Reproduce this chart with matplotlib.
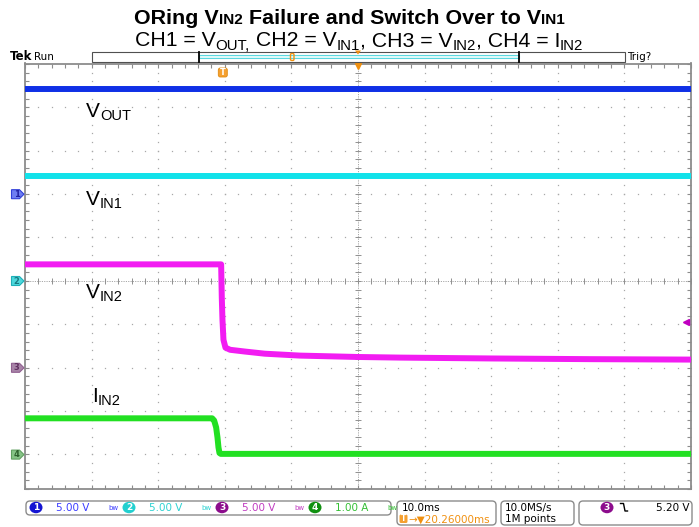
import numpy as np
import matplotlib
matplotlib.use("Agg")
import matplotlib.pyplot as plt
from matplotlib.patches import Rectangle, Polygon, FancyBboxPatch, Ellipse
from matplotlib.transforms import IdentityTransform

W, H = 699, 527
ID = IdentityTransform()
SANS = ['Liberation Sans', 'DejaVu Sans']
UI = ['DejaVu Sans']

# ---- scope settings / data ----
ms_per_div = 10
volts_per_div = [5.0, 5.0, 5.0, 1.0]
ground_div = [2, 0, -2, -4]          # channel ground markers, divisions from center
trigger_ms = 29.7                    # trigger point from left edge of record
trigger_level = 5.20                 # CH3 falling edge

t_vout = [0, 100]
v_vout = [12.1, 12.1]
t_vin1 = [0, 100]
v_vin1 = [12.05, 12.05]
t_vin2 = [0, 29.45, 29.55, 29.65, 29.8, 30.1, 30.8, 33, 36, 41.3, 50, 56.3, 70, 85, 100]
v_vin2 = [11.9, 11.9, 8.0, 5.5, 3.2, 2.3, 2.05, 1.85, 1.6, 1.38, 1.22, 1.15, 1.05, 0.97, 0.92]
t_iin2 = [0, 28.1, 28.4, 28.7, 28.9, 29.05, 29.2, 29.4, 100]
i_iin2 = [0.83, 0.83, 0.78, 0.62, 0.39, 0.16, 0.03, 0.01, 0.01]

ch_colors = ['#1030e6', '#12e2ea', '#f21cf2', '#22e022']
status_vals = ['5.00 V', '5.00 V', '5.00 V', '1.00 A']

# graticule in pixels
GX0, GX1 = 25, 691
GY0, GY1 = 63.5, 489
CY = 281
DIV = 43.4

fig = plt.figure(figsize=(W / 100, H / 100), dpi=100)
fig.patch.set_facecolor('white')

def ptext(x, y, s, **kw):
    return fig.text(x, H - y, s, transform=ID, **kw)

def rich(pieces, x, y, width=None, family=SANS):
    r = fig.canvas.get_renderer()
    def build(f):
        objs = [ptext(0, y + dy, s, fontsize=size * f, fontweight=wt, color='black',
                      family=family, va='baseline', ha='left')
                for s, size, wt, dy in pieces]
        return objs, [o.get_window_extent(r).width for o in objs]
    objs, ws = build(1.0)
    if width:
        f = width / sum(ws)
        for o in objs:
            o.remove()
        objs, ws = build(f)
    x0 = x - sum(ws) / 2
    for o, w in zip(objs, ws):
        o.set_x(x0)
        x0 += w

# ---- title ----
rich([('ORing V', 14, 'bold', 0), ('IN2', 10, 'bold', 0),
      (' Failure and Switch Over to V', 14, 'bold', 0), ('IN1', 10, 'bold', 0)],
     349.5, 24.5, width=430)
rich([('CH1 = V', 13.5, 'normal', 0), ('OUT,', 9.5, 'normal', 3),
      (' CH2 = V', 13.5, 'normal', 0), ('IN1', 9.5, 'normal', 3),
      (', CH3 = V', 13.5, 'normal', 0), ('IN2', 9.5, 'normal', 3),
      (', CH4 = I', 13.5, 'normal', 0), ('IN2', 9.5, 'normal', 3)],
     359, 46.5, width=450)

# ---- graticule axes ----
ax = fig.add_axes([GX0 / W, 1 - GY1 / H, (GX1 - GX0) / W, (GY1 - GY0) / H])
ybot, ytop = (CY - GY1) / DIV, (CY - GY0) / DIV
ax.set_xlim(0, 10 * ms_per_div)
ax.set_ylim(ybot, ytop)
for s in ax.spines.values():
    s.set_color('#8c8c8c')
    s.set_linewidth(1.3)
xminor = np.arange(0, 100.01, 2)
yminor = np.round(np.arange(-4.8, 5.01, 0.2), 2)
ax.set_xticks(xminor)
ax.set_yticks(yminor)
ax.tick_params(direction='in', length=3, width=0.8, color='#8c8c8c',
               top=True, right=True, labelbottom=False, labelleft=False)

gcol = '#a8a8a8'
xmaj = np.arange(10, 100, 10)
ymaj = np.arange(-4, 5, 1)
gx, gy = np.meshgrid(xminor, ymaj)
ax.plot(gx.ravel(), gy.ravel(), ls='none', marker='s', ms=0.9, mec='none', color=gcol, zorder=1)
gx, gy = np.meshgrid(xmaj, yminor)
ax.plot(gx.ravel(), gy.ravel(), ls='none', marker='s', ms=0.9, mec='none', color=gcol, zorder=1)
# center crosshair
ax.axhline(0, color=gcol, lw=0.7, ls=(0, (1.2, 1.2)), zorder=1)
ax.axvline(50, color=gcol, lw=0.7, ls=(0, (1.2, 1.2)), zorder=1)
ax.plot(xminor, np.zeros_like(xminor), ls='none', marker='|', ms=4, mew=0.7, color='#909090', zorder=1)
ax.plot(np.full_like(yminor, 50), yminor, ls='none', marker='_', ms=4, mew=0.7, color='#909090', zorder=1)

# ---- traces ----
traces = [(t_vout, v_vout), (t_vin1, v_vin1), (t_vin2, v_vin2), (t_iin2, i_iin2)]
for i, (t, v) in enumerate(traces):
    y = ground_div[i] + np.asarray(v) / volts_per_div[i]
    ax.plot(t, y, color=ch_colors[i], lw=4.3, solid_capstyle='butt',
            solid_joinstyle='round', zorder=3)

# trigger level marker (CH3) at right edge
ax.plot([99.3], [ground_div[2] + trigger_level / volts_per_div[2]], marker='<', ms=5,
        color='#c000c0', mec='#c000c0', clip_on=False, zorder=4)
# expansion point marker and trigger T
ax.plot([50], [ytop - 0.06], marker='v', ms=5, color='#f09010', clip_on=False, zorder=4)
tx = GX0 + trigger_ms / 100 * (GX1 - GX0)
fig.add_artist(FancyBboxPatch((tx - 4.5, H - 77), 9, 9, boxstyle='round,pad=0,rounding_size=2',
                              transform=ID, fc='#f5a030', ec='#e08a10', lw=0.6))
ptext(tx, 72.7, 'T', fontsize=6, color='white', fontweight='bold', ha='center', va='center', family=UI)

# ---- labels on traces ----
def chlabel(x, y, main, sub):
    rich([(main, 15, 'normal', 0), (sub, 10.5, 'normal', 3)], x, y)

def chlabel_left(x, y, main, sub):
    r = fig.canvas.get_renderer()
    a = ptext(x, y, main, fontsize=15, family=SANS, va='baseline')
    w = a.get_window_extent(r).width
    ptext(x + w, y + 3, sub, fontsize=10.5, family=SANS, va='baseline')

chlabel_left(86, 117, 'V', 'OUT')
chlabel_left(86, 205, 'V', 'IN1')
chlabel_left(86, 298, 'V', 'IN2')
chlabel_left(92, 402, 'I', 'IN2')

# ---- channel ground markers on the left ----
tab_fill = ['#6e7ef2', '#4cd8dc', '#a884a8', '#86c486']
tab_edge = ['#3040d8', '#20b0b8', '#906090', '#60a060']
tab_txt = ['#2020a0', '#187880', '#603060', '#2c602c']
for i in range(4):
    yc = CY - ground_div[i] * DIV
    pts = [(11.5, yc - 4.5), (19.5, yc - 4.5), (24, yc), (19.5, yc + 4.5), (11.5, yc + 4.5)]
    fig.add_artist(Polygon([(x, H - y) for x, y in pts], closed=True, transform=ID,
                           fc=tab_fill[i], ec=tab_edge[i], lw=0.8))
    ptext(16.5, yc, str(i + 1), fontsize=6, color=tab_txt[i], ha='center', va='center',
          fontweight='bold', family=UI)

# ---- top record bar ----
ptext(10, 60.5, 'Tek', fontsize=8.5, fontweight='bold', family=UI, va='baseline')
ptext(34, 60.5, 'Run', fontsize=7.5, family=UI, va='baseline')
ptext(627, 60.5, 'Trig?', fontsize=7.5, family=UI, va='baseline')
fig.add_artist(Rectangle((92, H - 62.3), 533, 10.6, transform=ID, fc='white', ec='#505050', lw=0.8))
fig.add_artist(Rectangle((199, H - 58.3), 320, 3, transform=ID, fc='#e4fafa', ec='#5ad8e0', lw=0.8))
for xd in (199, 519):
    fig.add_artist(plt.Line2D([xd, xd], [H - 62.3, H - 51.7], transform=ID, color='black', lw=1.3))
fig.add_artist(FancyBboxPatch((290.5, H - 60.5), 3.5, 7, boxstyle='round,pad=0,rounding_size=1.2',
                              transform=ID, fc='none', ec='#f09010', lw=1))
fig.add_artist(Polygon([(355, H - 50.5), (361, H - 50.5), (358, H - 54.5)], transform=ID,
                       fc='#f09010', ec='none'))

# ---- bottom status bar ----
def sbox(x0, y0, x1, y1):
    fig.add_artist(FancyBboxPatch((x0, H - y1), x1 - x0, y1 - y0,
                                  boxstyle='round,pad=0,rounding_size=4', transform=ID,
                                  fc='white', ec='#8c8c8c', lw=1))

sbox(26, 501, 391, 515)
sbox(397, 501, 496, 525)
sbox(501, 501, 574, 525)
sbox(579, 501, 692, 525)

circ_col = ['#1414d2', '#22d0d0', '#8c0c8c', '#109010']
val_col = ['#3c3cff', '#2ed2d2', '#c03cc0', '#34c034']
for i in range(4):
    cx = 36 + 93 * i
    fig.add_artist(Ellipse((cx, H - 507.5), 13, 11.5, transform=ID, fc=circ_col[i], ec='none'))
    ptext(cx, 507.8, str(i + 1), fontsize=6.5, color='white', fontweight='bold',
          ha='center', va='center', family=UI)
    ptext(cx + 20, 511.3, status_vals[i], fontsize=7.5, color=val_col[i], family=UI, va='baseline')
    ptext(cx + 72, 510.5, 'bw', fontsize=5, color=val_col[i], family=UI, va='baseline')

ptext(402, 511.3, '10.0ms', fontsize=7.5, family=UI, va='baseline')
fig.add_artist(FancyBboxPatch((399.5, H - 523), 8, 8.5, boxstyle='round,pad=0,rounding_size=1.5',
                              transform=ID, fc='#f5a030', ec='none'))
ptext(403.5, 518.8, 'T', fontsize=5.5, color='white', fontweight='bold', ha='center',
      va='center', family=UI)
ptext(408.5, 522.5, '\u2192\u25bc20.26000ms', fontsize=7.5, color='#f09010', family=UI, va='baseline')
ptext(505, 511.3, '10.0MS/s', fontsize=7.5, family=UI, va='baseline')
ptext(505, 522.5, '1M points', fontsize=7.5, family=UI, va='baseline')

fig.add_artist(Ellipse((607, H - 507.5), 13, 11.5, transform=ID, fc=circ_col[2], ec='none'))
ptext(607, 507.8, '3', fontsize=6.5, color='white', fontweight='bold', ha='center',
      va='center', family=UI)
fig.add_artist(plt.Line2D([620.5, 623.5, 625, 627.5], [H - 503.5, H - 503.5, H - 511, H - 511],
                          transform=ID, color='black', lw=1))
ptext(690, 511.3, '5.20 V', fontsize=7.5, family=UI, va='baseline', ha='right')

fig.savefig('out.png', dpi=100, facecolor='white')
